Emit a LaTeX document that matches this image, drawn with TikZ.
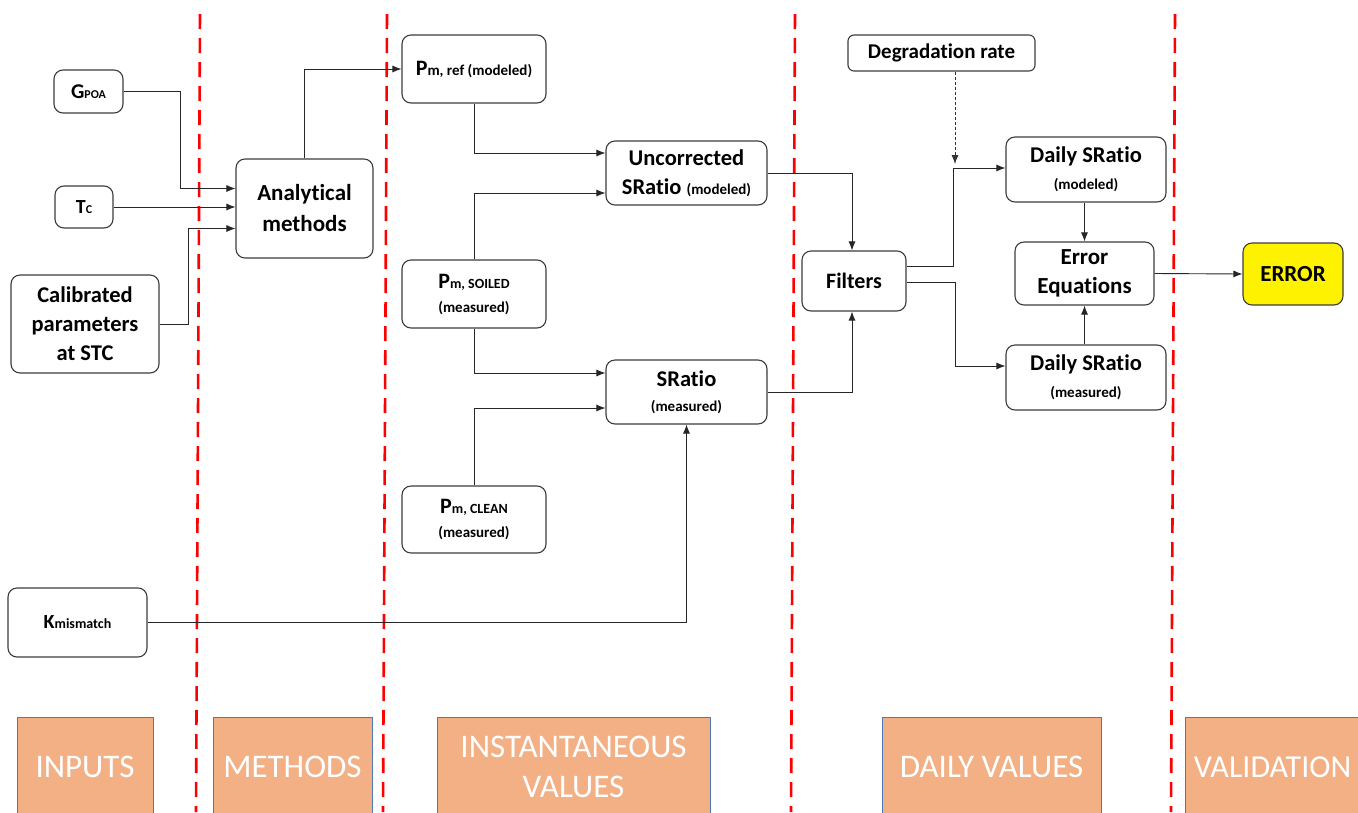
\documentclass[tikz,border=0pt]{standalone}
\usepackage{fontspec}
\setmainfont{Carlito}[Ligatures=NoCommon]
\usetikzlibrary{arrows.meta}
\definecolor{phasefill}{RGB}{242,176,132}
\definecolor{phaseline}{RGB}{80,120,180}
\definecolor{boxline}{RGB}{60,60,60}
\newcommand{\fsz}[1]{\fontsize{#1}{#1}\selectfont}
\begin{document}
\begin{tikzpicture}[x=1pt,y=-1pt,
  box/.style={draw=boxline, line width=1.1pt, rounded corners=9pt, fill=white, align=center, inner sep=0pt, font=\bfseries},
  conn/.style={draw=black!85, line width=0.9pt, -{Latex[length=9pt,width=7pt]}},
  dconn/.style={draw=black!80, line width=0.8pt, dash pattern=on 3pt off 2pt, -{Latex[length=9pt,width=7pt]}},
  sep/.style={draw=red, line width=2.6pt, dash pattern=on 15pt off 9pt},
  phase/.style={draw=phaseline, line width=0.7pt, fill=phasefill, text=white, font=\fontsize{33}{40}\selectfont, align=center, inner sep=0pt}]
\useasboundingbox (0,0) rectangle (1358,812);
\fill[white] (0,0) rectangle (1358,812);

% phase labels
\node[phase, minimum width=136, minimum height=100] (pin) at (85,767) {INPUTS};
\node[phase, minimum width=159, minimum height=100] (pme) at (292.5,767) {METHODS};
\node[phase, minimum width=273, minimum height=100] (pinst) at (573.5,767) {INSTANTANEOUS\\VALUES};
\node[phase, minimum width=219, minimum height=100] (pday) at (991.5,767) {DAILY VALUES};
\node[phase, minimum width=175, minimum height=100, font=\fontsize{32}{40}\selectfont] (pval) at (1272.5,767) {VALIDATION};

% separators
\draw[sep] (200,14) -- (196,812);
\draw[sep] (387,14) -- (383,812);
\draw[sep] (795,14) -- (791,812);
\draw[sep] (1175,14) -- (1171,812);

% nodes
\node[box, minimum width=69, minimum height=43] (gpoa) at (88.5,91.5) {{\fsz{21}G}{\fsz{12}POA}};
\node[box, minimum width=58, minimum height=42] (tc) at (84,207) {{\fsz{20}T}{\fsz{12}C}};
\node[box, minimum width=148, minimum height=98, font=\bfseries\fontsize{22.5}{29}\selectfont] (cal) at (85,324) {Calibrated\\parameters\\at STC};
\node[box, minimum width=137, minimum height=99, font=\bfseries\fontsize{23}{31}\selectfont] (anal) at (304.5,208.5) {Analytical\\methods};
\node[box, minimum width=144, minimum height=68] (pmref) at (474,69) {{\fsz{22}P}{\fsz{15}m, ref (modeled)}};
\node[box, minimum width=161, minimum height=64, font=\bfseries\fontsize{22.5}{29}\selectfont] (unc) at (686.5,173) {Uncorrected\\SRatio {\fsz{15}(modeled)}};
\node[box, minimum width=144, minimum height=68, font=\bfseries\fontsize{22}{24}\selectfont] (pmsoil) at (474,294) {P{\fsz{14}m, SOILED}\\{\fsz{15}(measured)}};
\node[box, minimum width=161, minimum height=64, font=\bfseries\fontsize{22.5}{25}\selectfont] (sr) at (686.5,392) {SRatio\\{\fsz{15}(measured)}};
\node[box, minimum width=144, minimum height=67, font=\bfseries\fontsize{22}{24}\selectfont] (pmclean) at (474,519.5) {P{\fsz{14}m, CLEAN}\\{\fsz{15}(measured)}};
\node[box, minimum width=139, minimum height=69] (kmis) at (77.5,622.5) {{\fsz{20}K}{\fsz{14}mismatch}};
\node[box, minimum width=187, minimum height=36, rounded corners=6pt, font=\bfseries\fontsize{21}{22}\selectfont] (deg) at (941.5,53) {Degradation rate};
\node[box, minimum width=104, minimum height=60, font=\bfseries\fontsize{22}{24}\selectfont] (filt) at (854,281) {Filters};
\node[box, minimum width=160, minimum height=65, font=\bfseries\fontsize{22.5}{27}\selectfont] (dmod) at (1086,169.5) {Daily SRatio\\{\fsz{15}(modeled)}};
\node[box, minimum width=139, minimum height=63, font=\bfseries\fontsize{23}{29}\selectfont] (erreq) at (1084.5,273.5) {Error\\Equations};
\node[box, minimum width=160, minimum height=65, font=\bfseries\fontsize{22.5}{27}\selectfont] (dmeas) at (1086,377.5) {Daily SRatio\\{\fsz{15}(measured)}};
\node[box, minimum width=100, minimum height=62, fill=yellow, font=\bfseries\fontsize{23}{24}\selectfont] (err) at (1293,274) {ERROR};

\coordinate (junc) at (955,164);

% connectors
\draw[conn] (gpoa.east) -- ++(57,0) |- ([yshift=20]anal.west);
\draw[conn] (tc.east) -- (tc.east -| anal.west);
\draw[conn] (cal.east) -- ++(29,0) |- ([yshift=-20]anal.west);
\draw[conn] (anal.north) |- (pmref.west);
\draw[conn] (pmref.south) |- ([yshift=20]unc.west);
\draw[conn] (pmsoil.north) |- ([yshift=-20]unc.west);
\draw[conn] (pmsoil.south) |- ([yshift=19]sr.west);
\draw[conn] (pmclean.north) |- ([yshift=-16]sr.west);
\draw[conn] (kmis.east) -| (sr.south);
\draw[conn] (unc.east) -| ([xshift=-2]filt.north);
\draw[conn] (sr.east) -| ([xshift=-2]filt.south);
\draw[conn] ([yshift=15]filt.east) -- ++(47,0) |- ([yshift=1.5]dmod.west);
\draw[conn] ([yshift=-1]filt.east) -- ++(49,0) |- ([yshift=11.5]dmeas.west);
\draw[dconn] ([xshift=13.5]deg.south) -- (junc);
\draw[conn] (dmod.south -| erreq.north) -- (erreq.north);
\draw[conn] (dmeas.north -| erreq.south) -- (erreq.south);
\draw[conn] (erreq.east) -- (err.west);
\end{tikzpicture}
\end{document}
